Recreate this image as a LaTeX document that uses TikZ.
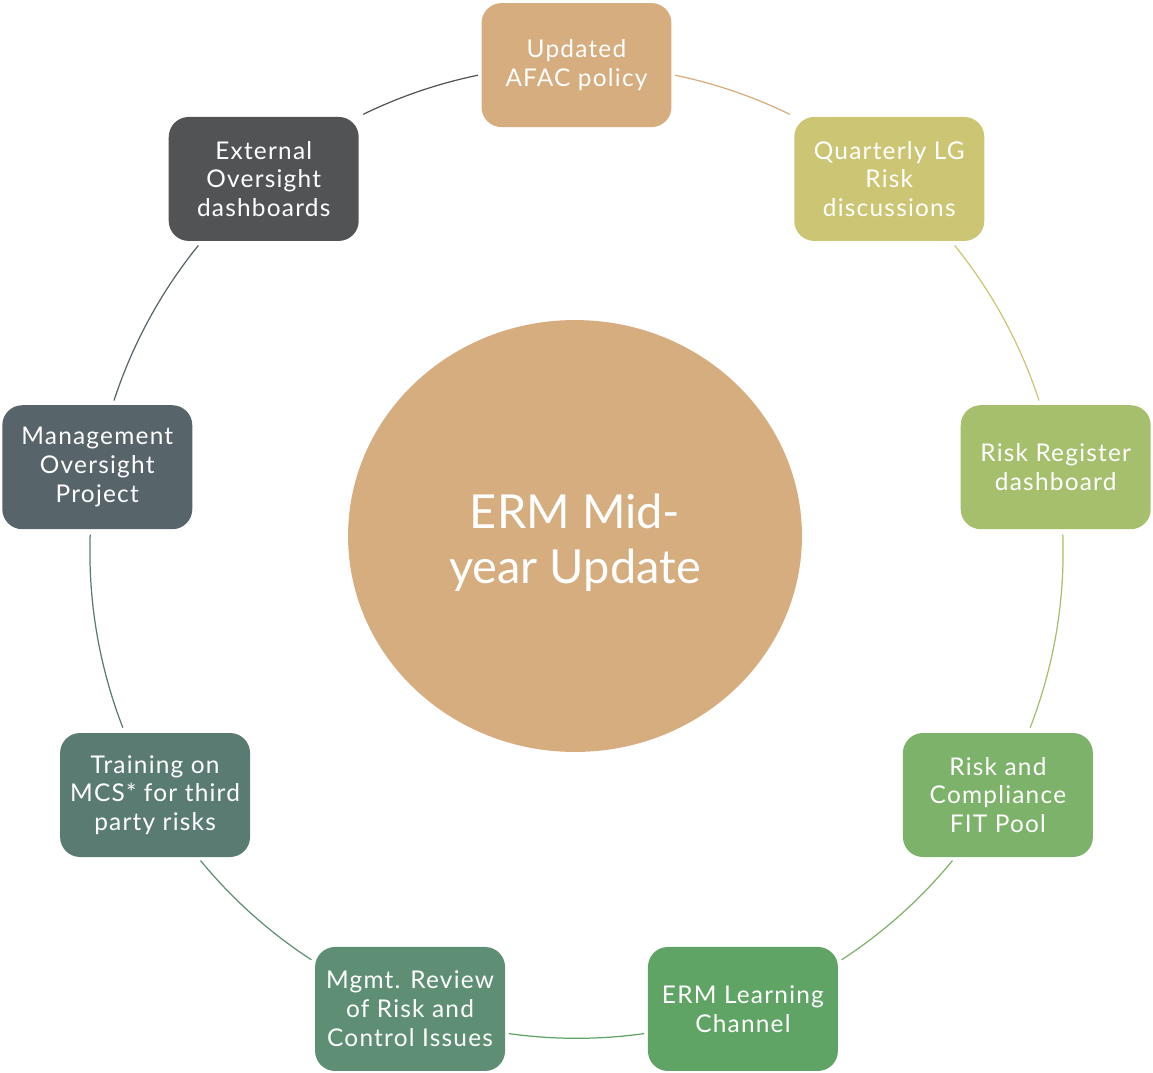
\documentclass[tikz,border=0pt]{standalone}
\usepackage{fontspec}
\setmainfont{Lato}
\newfontfamily\boxfont[LetterSpace=5]{Lato}
\usetikzlibrary{shapes.geometric}
\definecolor{c1}{HTML}{D5AD7E}
\definecolor{c2}{HTML}{CBC574}
\definecolor{c3}{HTML}{A5BF6D}
\definecolor{c4}{HTML}{7DB26A}
\definecolor{c5}{HTML}{5FA465}
\definecolor{c6}{HTML}{5E8F74}
\definecolor{c7}{HTML}{5A7B71}
\definecolor{c8}{HTML}{57646A}
\definecolor{c9}{HTML}{525355}
\definecolor{hub}{HTML}{D5AD7E}
\begin{document}
\begin{tikzpicture}[x=0.02cm,y=-0.02cm,
  itembox/.style={rounded corners=0.4cm, minimum width=3.8cm, minimum height=2.48cm,
    inner sep=0pt, align=center, text=white, font=\boxfont\fontsize{13.9}{16.4}\selectfont},
  cyc/.style={line width=0.7pt}]
\useasboundingbox (0,0) rectangle (1153,1072);
\coordinate (C) at (576.5,551.7);
\def\R{9.734cm}
% arcs
\draw[cyc,c1] ([shift={(78.3:\R)}]C) arc[start angle=78.3, end angle=64.0, radius=\R];
\draw[cyc,c2] ([shift={(39.0:\R)}]C) arc[start angle=39.0, end angle=18.1, radius=\R];
\draw[cyc,c3] ([shift={(2.0:\R)}]C) arc[start angle=2.0, end angle=-21.2, radius=\R];
\draw[cyc,c4] ([shift={(-39.4:\R)}]C) arc[start angle=-39.4, end angle=-57.0, radius=\R];
\draw[cyc,c5] ([shift={(-82.0:\R)}]C) arc[start angle=-82.0, end angle=-98.0, radius=\R];
\draw[cyc,c6] ([shift={(-123.0:\R)}]C) arc[start angle=-123.0, end angle=-140.6, radius=\R];
\draw[cyc,c7] ([shift={(-158.8:\R)}]C) arc[start angle=-158.8, end angle=-182.0, radius=\R];
\draw[cyc,c8] ([shift={(161.9:\R)}]C) arc[start angle=161.9, end angle=141.0, radius=\R];
\draw[cyc,c9] ([shift={(116.0:\R)}]C) arc[start angle=116.0, end angle=101.7, radius=\R];
% hub
\node[ellipse, fill=hub, minimum width=9.08cm, minimum height=8.64cm, inner sep=0pt] (hubn) at (575,536) {};
\node[text=white, align=center, font=\fontsize{26.7}{31.2}\selectfont, inner sep=0pt] (hubt) at (575,543)
  {ERM Mid-\\year Update};
% boxes
\node[itembox, fill=c1] (b1) at ([shift={(90:\R)}]C) {Updated\\AFAC policy};
\node[itembox, fill=c2] (b2) at ([shift={(50:\R)}]C) {Quarterly LG\\Risk\\discussions};
\node[itembox, fill=c3] (b3) at ([shift={(10:\R)}]C) {Risk Register\\dashboard};
\node[itembox, fill=c4] (b4) at ([shift={(-30:\R)}]C) {Risk and\\Compliance\\FIT Pool};
\node[itembox, fill=c5] (b5) at ([shift={(-70:\R)}]C) {ERM Learning\\Channel};
\node[itembox, fill=c6] (b6) at ([shift={(-110:\R)}]C) {Mgmt. Review\\of Risk and\\Control Issues};
\node[itembox, fill=c7] (b7) at ([shift={(-150:\R)}]C) {Training on\\MCS* for third\\party risks};
\node[itembox, fill=c8] (b8) at ([shift={(170:\R)}]C) {Management\\Oversight\\Project};
\node[itembox, fill=c9] (b9) at ([shift={(130:\R)}]C) {External\\Oversight\\dashboards};
\end{tikzpicture}
\end{document}
